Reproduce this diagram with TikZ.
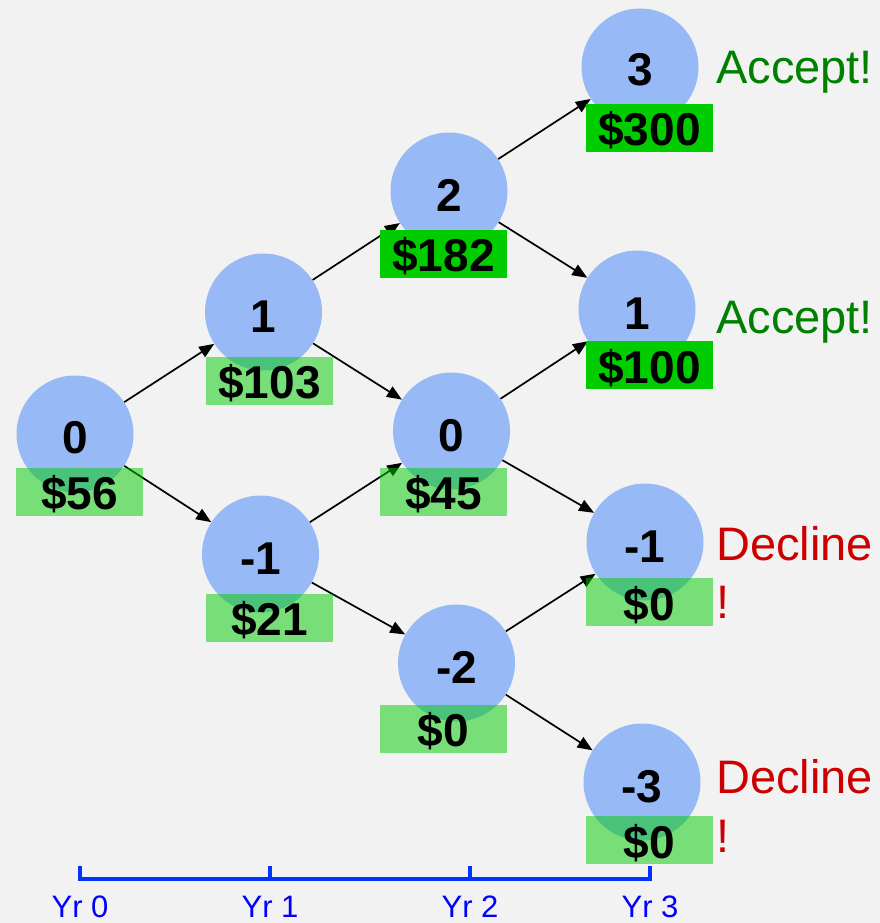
\documentclass[tikz,border=0pt]{standalone}
\usepackage{fontspec}
\setmainfont{Liberation Sans}
\usetikzlibrary{arrows.meta}

\definecolor{paper}{RGB}{242,242,242}
\definecolor{nodeblue}{RGB}{151,185,245}
\definecolor{cashgreen}{RGB}{0,204,0}
\definecolor{acceptgreen}{RGB}{0,128,0}
\definecolor{declinered}{RGB}{204,0,0}
\definecolor{axisblue}{RGB}{0,51,255}
\definecolor{yearblue}{RGB}{0,0,255}

\tikzset{
  statecirc/.style={circle, fill=nodeblue, draw=none, minimum size=117pt, inner sep=0pt},
  statenum/.style={anchor=base, inner sep=0pt, font=\fontsize{46}{50}\selectfont\bfseries},
  cashbox/.style={rectangle, fill=cashgreen, fill opacity=0.5, draw=none,
                  minimum width=127pt, minimum height=48pt, inner sep=0pt},
  cashboxsolid/.style={cashbox, fill opacity=1},
  cashtext/.style={anchor=base, inner sep=0pt, font=\fontsize{46}{50}\selectfont\bfseries},
  edgearrow/.style={draw=black, line width=1.7pt, -{Triangle[length=15pt,width=12pt]}},
  verdict/.style={anchor=base west, inner sep=0pt, font=\fontsize{47}{51}\selectfont},
  axisline/.style={draw=axisblue, line width=4pt},
  yearlabel/.style={anchor=base, inner sep=0pt, text=yearblue, font=\fontsize{31}{34}\selectfont},
}

\begin{document}
\begin{tikzpicture}[x=1pt, y=-1pt]
  % canvas
  \fill[paper] (0,0) rectangle (880,923);
  \useasboundingbox (0,0) rectangle (880,923);

  % lattice states
  \node[statecirc] (c0)  at (75,434) {};
  \node[statecirc] (c1a) at (263.5,312) {};
  \node[statecirc] (c1b) at (260.5,554) {};
  \node[statecirc] (c2a) at (449,191) {};
  \node[statecirc] (c2b) at (451.5,431) {};
  \node[statecirc] (c2c) at (456.5,663) {};
  \node[statecirc] (c3a) at (640,67) {};
  \node[statecirc] (c3b) at (637,309) {};
  \node[statecirc] (c3c) at (645,542) {};
  \node[statecirc] (c3d) at (642,782) {};

  % state numbers
  \node[statenum] (k0)  at (75,453.5) {0};
  \node[statenum] (k1a) at (263.5,332) {1};
  \node[statenum] (k1b) at (260.5,574) {-1};
  \node[statenum] (k2a) at (449,211) {2};
  \node[statenum] (k2b) at (451.5,451) {0};
  \node[statenum] (k2c) at (456.5,683) {-2};
  \node[statenum] (k3a) at (640,86) {3};
  \node[statenum] (k3b) at (637,329) {1};
  \node[statenum] (k3c) at (645,562) {-1};
  \node[statenum] (k3d) at (642,802) {-3};

  % transitions
  \draw[edgearrow] (c0)  -- (c1a);
  \draw[edgearrow] (c0)  -- (c1b);
  \draw[edgearrow] (c1a) -- (c2a);
  \draw[edgearrow] (c1a) -- (c2b);
  \draw[edgearrow] (c1b) -- (c2b);
  \draw[edgearrow] (c1b) -- (c2c);
  \draw[edgearrow] (c2a) -- (c3a);
  \draw[edgearrow] (c2a) -- (c3b);
  \draw[edgearrow] (c2b) -- (c3b);
  \draw[edgearrow] (c2b) -- (c3c);
  \draw[edgearrow] (c2c) -- (c3c);
  \draw[edgearrow] (c2c) -- (c3d);

  % option values
  \node[cashbox]      (b0)  at (79.5,492) {};
  \node[cashbox]      (b1a) at (269.5,381) {};
  \node[cashbox]      (b1b) at (269.5,618) {};
  \node[cashboxsolid] (b2a) at (443.5,254) {};
  \node[cashbox]      (b2b) at (443.5,492) {};
  \node[cashbox]      (b2c) at (443.5,729) {};
  \node[cashboxsolid] (b3a) at (649.5,128) {};
  \node[cashboxsolid] (b3b) at (649.5,365) {};
  \node[cashbox]      (b3c) at (649.5,602) {};
  \node[cashbox]      (b3d) at (649.5,840) {};

  \node[cashtext] (v0)  at (79.5,509) {\$56};
  \node[cashtext] (v1a) at (269.5,398) {\$103};
  \node[cashtext] (v1b) at (269.5,635) {\$21};
  \node[cashtext] (v2a) at (443.5,271) {\$182};
  \node[cashtext] (v2b) at (443.5,509) {\$45};
  \node[cashtext] (v2c) at (443.5,746) {\$0};
  \node[cashtext] (v3a) at (649.5,146) {\$300};
  \node[cashtext] (v3b) at (649.5,383) {\$100};
  \node[cashtext] (v3c) at (649.5,620) {\$0};
  \node[cashtext] (v3d) at (649.5,858) {\$0};

  % decisions at maturity
  \node[verdict, text=acceptgreen] (d3a) at (716,84) {Accept!};
  \node[verdict, text=acceptgreen] (d3b) at (716,333) {Accept!};
  \node[verdict, text=declinered]  (d3c) at (716,560) {Decline};
  \node[verdict, text=declinered]  (e3c) at (716,618) {!};
  \node[verdict, text=declinered]  (d3d) at (716,793) {Decline};
  \node[verdict, text=declinered]  (e3d) at (716,852) {!};

  % time axis
  \coordinate (t0) at (80,879);
  \coordinate (t1) at (270,879);
  \coordinate (t2) at (470,879);
  \coordinate (t3) at (650,879);
  \draw[axisline] (t0) ++(0,-13) -- (t0) -- (t3) -- ++(0,-13);
  \draw[axisline] (t1) -- ++(0,-13);
  \draw[axisline] (t2) -- ++(0,-13);

  \node[yearlabel] (y0) at (80,917) {Yr 0};
  \node[yearlabel] (y1) at (270,917) {Yr 1};
  \node[yearlabel] (y2) at (470,917) {Yr 2};
  \node[yearlabel] (y3) at (650,917) {Yr 3};
\end{tikzpicture}
\end{document}
